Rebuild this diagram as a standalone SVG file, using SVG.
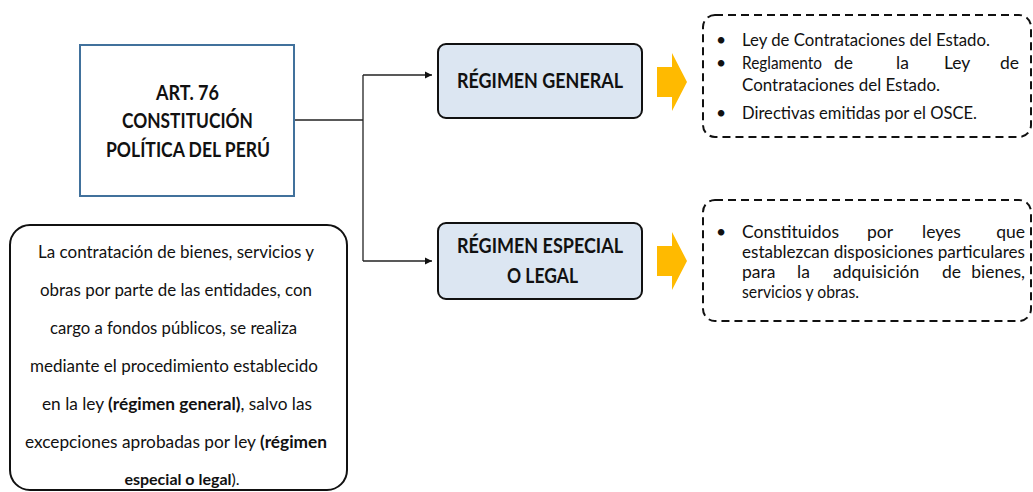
<svg xmlns="http://www.w3.org/2000/svg" width="1033" height="492" viewBox="0 0 1033 492">
<style>
text{font-family:Lato,"Open Sans","Liberation Sans",sans-serif;fill:#111}
.b{font-weight:bold}
.h{font-size:20px;font-weight:bold}
.t{font-size:17.5px}
.m{font-size:17px}
.e{text-anchor:end}
.dash{fill:none;stroke:#111;stroke-width:2;stroke-dasharray:8 5}
.reg{fill:#DCE6F2;stroke:#111;stroke-width:2}
.arr{fill:#FFBA00}
.con{fill:none;stroke:#222;stroke-width:1.3}
</style>
<defs>
<marker id="ah" markerWidth="8" markerHeight="8" refX="7" refY="4" orient="auto" markerUnits="userSpaceOnUse">
<path d="M0,0.5 L7,4 L0,7.5 Z" fill="#111"/>
</marker>
</defs>
<rect width="1033" height="492" fill="#fff"/>

<g id="connectors">
<path class="con" d="M295,120 H363"/>
<path class="con" d="M363,75 V261"/>
<path class="con" d="M363,75 H432" marker-end="url(#ah)"/>
<path class="con" d="M363,261 H432" marker-end="url(#ah)"/>
</g>

<g id="art76">
<rect x="80" y="45" width="214" height="151" fill="#fff" stroke="#41719C" stroke-width="2"/>
<text class="h" x="156" y="100" textLength="63" lengthAdjust="spacingAndGlyphs">ART. 76</text>
<text class="h" x="122" y="128" textLength="131" lengthAdjust="spacingAndGlyphs">CONSTITUCIÓN</text>
<text class="h" x="106" y="157" textLength="164" lengthAdjust="spacingAndGlyphs">POLÍTICA DEL PERÚ</text>
</g>

<g id="regimen-general">
<rect class="reg" x="438" y="44" width="204" height="74" rx="8"/>
<text class="h" x="457" y="88" textLength="166" lengthAdjust="spacingAndGlyphs">RÉGIMEN GENERAL</text>
</g>

<g id="regimen-especial">
<rect class="reg" x="438" y="223" width="204" height="76" rx="8"/>
<text class="h" x="457" y="253" textLength="166" lengthAdjust="spacingAndGlyphs">RÉGIMEN ESPECIAL</text>
<text class="h" x="507" y="283" textLength="71" lengthAdjust="spacingAndGlyphs">O LEGAL</text>
</g>

<g id="arrow-general">
<path class="arr" d="M657,67 H672 V53 L687,82 L672,111 V97 H657 Z"/>
</g>
<g id="arrow-especial">
<path class="arr" d="M657,246 H672 V232 L687,261 L672,290 V276 H657 Z"/>
</g>

<g id="lista-general">
<rect class="dash" x="703" y="15" width="328" height="122" rx="12"/>
<text class="t" x="716" y="46">•</text>
<text class="t" x="742" y="46" textLength="248" lengthAdjust="spacingAndGlyphs">Ley de Contrataciones del Estado.</text>
<text class="t" x="716" y="69">•</text>
<text class="t" x="742" y="69" textLength="80" lengthAdjust="spacingAndGlyphs">Reglamento</text>
<text class="t" x="834" y="69">de</text>
<text class="t" x="896" y="69">la</text>
<text class="t" x="944" y="69">Ley</text>
<text class="t e" x="1019" y="69">de</text>
<text class="t" x="742" y="91" textLength="198" lengthAdjust="spacingAndGlyphs">Contrataciones del Estado.</text>
<text class="t" x="716" y="119">•</text>
<text class="t" x="742" y="119" textLength="235" lengthAdjust="spacingAndGlyphs">Directivas emitidas por el OSCE.</text>
</g>

<g id="lista-especial">
<rect class="dash" x="703" y="200" width="328" height="121" rx="12"/>
<text class="t" x="716" y="238">•</text>
<text class="t" y="238"><tspan x="742">Constituidos</tspan><tspan x="867">por</tspan><tspan x="922">leyes</tspan></text>
<text class="t e" x="1025" y="238">que</text>
<text class="t" x="742" y="258" textLength="283" lengthAdjust="spacingAndGlyphs">establezcan disposiciones particulares</text>
<text class="t" y="278"><tspan x="742">para</tspan><tspan x="797">la</tspan><tspan x="833">adquisición</tspan><tspan x="942">de</tspan></text>
<text class="t e" x="1025" y="278">bienes,</text>
<text class="t" x="742" y="298" textLength="117" lengthAdjust="spacingAndGlyphs">servicios y obras.</text>
</g>

<g id="definicion">
<rect x="10" y="225" width="337" height="265" rx="20" fill="#fff" stroke="#111" stroke-width="2"/>
<text class="m" x="38" y="258" textLength="276" lengthAdjust="spacingAndGlyphs">La contratación de bienes, servicios y</text>
<text class="m" x="40" y="296" textLength="272" lengthAdjust="spacingAndGlyphs">obras por parte de las entidades, con</text>
<text class="m" x="50" y="334" textLength="247" lengthAdjust="spacingAndGlyphs">cargo a fondos públicos, se realiza</text>
<text class="m" x="30" y="372" textLength="288" lengthAdjust="spacingAndGlyphs">mediante el procedimiento establecido</text>
<text class="m" x="42" y="410" textLength="270" lengthAdjust="spacingAndGlyphs">en la ley <tspan class="b">(régimen general)</tspan>, salvo las</text>
<text class="m" x="25" y="448" textLength="302" lengthAdjust="spacingAndGlyphs">excepciones aprobadas por ley <tspan class="b">(régimen</tspan></text>
<text x="182" y="485" style="font-size:16px;text-anchor:middle"><tspan class="b">especial o legal</tspan>).</text>
</g>
</svg>
